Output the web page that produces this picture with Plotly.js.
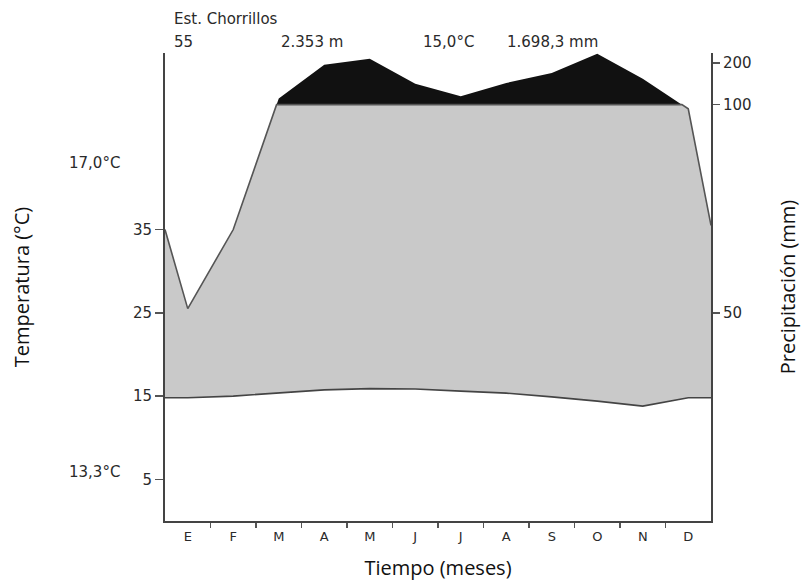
<!DOCTYPE html>
<html>
<head>
<meta charset="utf-8">
<script src="https://cdn.plot.ly/plotly-3.0.1.min.js"></script>
<style>html,body{margin:0;padding:0;background:#fff;}#chart{width:812px;height:588px;}</style>
</head>
<body>
<div id="chart"></div>
<script>
// ---- Data (Est. Chorrillos) ----
const months = ['E','F','M','A','M','J','J','A','S','O','N','D'];
const tempC = [14.8, 15.0, 15.35, 15.75, 15.9, 15.85, 15.6, 15.35, 14.9, 14.4, 13.8, 14.8];
const tempEdges = [14.8, 14.8];          // values drawn at the Dec/Jan boundary (left, right)
const precipMm = [51, 70, 115, 196, 210, 150, 120, 152, 176, 222, 162, 99];
const precipEdges = [70, 71];            // values drawn at the Dec/Jan boundary (left, right)
const tempTicks = [5, 15, 25, 35];
const precipTicks = [50, 100, 200];
const stationInfo = ['Est. Chorrillos', '55', '2.353 m', '15,0°C', '1.698,3 mm'];
const extremeTemps = ['17,0°C', '13,3°C'];

// Walter-Lieth scale: 1 °C = 2 mm up to 100 mm, then 1 °C = 20 mm
function pScale(p) { return p <= 100 ? p / 2 : 50 + (p - 100) / 20; }

const xs = [0].concat(months.map((m, i) => i + 0.5), [12]);
const ts = [tempEdges[0]].concat(tempC, [tempEdges[1]]);
const ps = [precipEdges[0]].concat(precipMm, [precipEdges[1]]).map(pScale);

// insert the points where the precipitation curve crosses the 100 mm level
const dx = [], dy = [];
for (let i = 0; i < xs.length; i++) {
  dx.push(xs[i]); dy.push(ps[i]);
  if (i < xs.length - 1 && (ps[i] - 50) * (ps[i + 1] - 50) < 0) {
    const f = (50 - ps[i]) / (ps[i + 1] - ps[i]);
    dx.push(xs[i] + f * (xs[i + 1] - xs[i])); dy.push(50);
  }
}
const humid = dy.map(v => Math.min(v, 50));
const perhumid = dy.map(v => Math.max(v, 50));

const traces = [
  {x: xs, y: ts, mode: 'lines', line: {width: 0, color: 'rgba(0,0,0,0)'}, hoverinfo: 'skip', showlegend: false},
  {x: dx, y: humid, mode: 'lines', fill: 'tonexty', fillcolor: '#c9c9c9', line: {width: 0, color: 'rgba(0,0,0,0)'}, hoverinfo: 'skip', showlegend: false},
  {x: [0, 12], y: [pScale(100), pScale(100)], mode: 'lines', line: {width: 0, color: 'rgba(0,0,0,0)'}, hoverinfo: 'skip', showlegend: false},
  {x: dx, y: perhumid, mode: 'lines', fill: 'tonexty', fillcolor: '#111111', line: {width: 0, color: 'rgba(0,0,0,0)'}, showlegend: false},
  {x: dx, y: humid, mode: 'lines', line: {width: 1.6, color: '#555555'}, showlegend: false},
  {x: xs, y: ts, mode: 'lines', line: {width: 1.6, color: '#444444'}, showlegend: false},
  {x: [], y: [], xaxis: 'x2', yaxis: 'y2', mode: 'lines', showlegend: false}
];

const smallFont = {family: 'DejaVu Sans, sans-serif', size: 15, color: '#2a2a2a'};
const titleFont = {family: 'Open Sans, sans-serif', size: 20, color: '#111'};

const L = 165, R = 711, T = 53, B = 521;
function px(x) { return (x - L) / (R - L); }
function py(y) { return (B - y) / (B - T); }

const annotations = [
  {text: stationInfo[0], x: px(172), y: py(19)},
  {text: stationInfo[1], x: px(172), y: py(42)},
  {text: stationInfo[2], x: px(279), y: py(42)},
  {text: stationInfo[3], x: px(421), y: py(42)},
  {text: stationInfo[4], x: px(505), y: py(42)},
  {text: extremeTemps[0], x: px(67), y: py(163)},
  {text: extremeTemps[1], x: px(67), y: py(472)}
].map(a => Object.assign({xref: 'paper', yref: 'paper', xanchor: 'left', yanchor: 'middle', showarrow: false, font: smallFont}, a));

const yRange = [0, 56.2];
const layout = {
  width: 812, height: 588,
  margin: {l: L, r: 812 - R, t: T, b: 588 - B},
  paper_bgcolor: '#fff', plot_bgcolor: '#fff',
  showlegend: false,
  xaxis: {
    range: [0, 12], tickvals: months.slice(1).map((m, i) => i + 1), ticktext: months.slice(1).map(() => ''),
    ticks: 'outside', ticklen: 5, tickwidth: 1.5, tickcolor: '#555',
    showline: true, linecolor: '#444', linewidth: 2, showgrid: false, zeroline: false,
    title: {text: 'Tiempo (meses)', font: titleFont, standoff: 32}
  },
  xaxis2: {
    overlaying: 'x', anchor: 'y', side: 'bottom', range: [0, 12],
    tickvals: months.map((m, i) => i + 0.5), ticktext: months,
    ticks: 'outside', ticklen: 3, tickcolor: 'rgba(0,0,0,0)',
    tickfont: {family: 'DejaVu Sans, sans-serif', size: 13, color: '#2a2a2a'},
    showline: false, showgrid: false, zeroline: false
  },
  yaxis: {
    range: yRange, tickvals: tempTicks, ticktext: tempTicks.map(String),
    ticks: 'outside', ticklen: 8, tickwidth: 1.5, tickcolor: '#555',
    tickfont: smallFont,
    showline: true, linecolor: '#444', linewidth: 2, showgrid: false, zeroline: false,
    title: {text: 'Temperatura (°C)', font: titleFont, standoff: 98}
  },
  yaxis2: {
    overlaying: 'y', side: 'right', anchor: 'x', range: yRange,
    tickvals: precipTicks.map(pScale), ticktext: precipTicks.map(String),
    ticks: 'outside', ticklen: 7, tickwidth: 1.5, tickcolor: '#555',
    tickfont: smallFont,
    showline: true, linecolor: '#444', linewidth: 2, showgrid: false, zeroline: false,
    title: {text: 'Precipitación (mm)', font: titleFont, standoff: 30}
  },
  annotations: annotations
};

Plotly.newPlot('chart', traces, layout, {staticPlot: true, displayModeBar: false});
</script>
</body>
</html>
